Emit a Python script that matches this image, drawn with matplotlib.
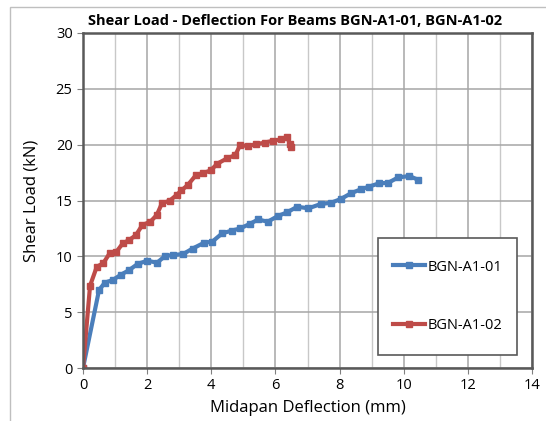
import matplotlib.pyplot as plt
from matplotlib.patches import Rectangle
from matplotlib.ticker import MultipleLocator

plt.rcParams['font.family'] = ['Open Sans', 'DejaVu Sans']

# BGN-A1-01 (blue)
x_a101 = [0, 0.5, 0.68, 0.93, 1.17, 1.44, 1.7, 2.0, 2.31, 2.56, 2.81, 3.12, 3.42,
          3.78, 4.03, 4.34, 4.64, 4.9, 5.2, 5.46, 5.76, 6.07, 6.37, 6.68, 7.03,
          7.41, 7.74, 8.05, 8.35, 8.66, 8.91, 9.22, 9.52, 9.83, 10.18, 10.45]
y_a101 = [0, 6.98, 7.64, 7.88, 8.33, 8.77, 9.31, 9.61, 9.43, 10.03, 10.12, 10.2, 10.7,
          11.22, 11.31, 12.06, 12.3, 12.5, 12.9, 13.3, 13.1, 13.6, 13.95, 14.44, 14.3,
          14.68, 14.8, 15.15, 15.64, 16.0, 16.23, 16.53, 16.59, 17.07, 17.19, 16.85]

# BGN-A1-02 (red)
x_a102 = [0, 0.22, 0.43, 0.63, 0.83, 1.04, 1.24, 1.44, 1.65, 1.85, 2.1, 2.3, 2.46,
          2.71, 2.92, 3.07, 3.27, 3.53, 3.73, 3.98, 4.19, 4.49, 4.75, 4.9, 5.15,
          5.4, 5.66, 5.91, 6.17, 6.37, 6.45, 6.5]
y_a102 = [0, 7.37, 9.07, 9.37, 10.27, 10.4, 11.16, 11.46, 11.9, 12.8, 13.1, 13.7, 14.74,
          15.0, 15.5, 15.9, 16.4, 17.3, 17.43, 17.7, 18.3, 18.77, 19.07, 19.96, 19.87,
          20.05, 20.17, 20.35, 20.47, 20.65, 20.1, 19.8]

fig = plt.figure(figsize=(5.46, 4.21), dpi=100)
ax = fig.add_axes([83 / 546, 53 / 421, 449 / 546, 335 / 421])

# outer chart border
fig.patches.append(Rectangle((10 / 546, -0.1), 1.2, (421 - 7) / 421 + 0.1,
                             transform=fig.transFigure, fill=False,
                             edgecolor='#bfbfbf', lw=1))

ax.plot(x_a101, y_a101, color='#4a7ebb', lw=3, marker='s', ms=4.5, label='BGN-A1-01')
ax.plot(x_a102, y_a102, color='#be4b48', lw=3, marker='s', ms=4.5, label='BGN-A1-02')

ax.set_xlim(0, 14)
ax.set_ylim(0, 30)
ax.xaxis.set_major_locator(MultipleLocator(2))
ax.xaxis.set_minor_locator(MultipleLocator(1))
ax.yaxis.set_major_locator(MultipleLocator(5))
ax.grid(which='major', color='#a6a6a6', lw=1.1)
ax.grid(which='minor', axis='x', color='#c8c8c8', lw=1)
ax.set_axisbelow(True)
ax.tick_params(which='minor', length=0)
ax.tick_params(which='major', length=4, color='#808080', labelsize=10.5)
for s in ax.spines.values():
    s.set_color('#595959')
    s.set_linewidth(1.8)

ax.set_xlabel('Midapan Deflection (mm)', fontsize=12, labelpad=5)
ax.set_ylabel('Shear Load (kN)', fontsize=12, labelpad=12)
ax.set_title('Shear Load - Deflection For Beams BGN-A1-01, BGN-A1-02',
             fontsize=10.5, fontweight='bold', x=0.472, pad=6)

# legend box
ax.add_patch(Rectangle((0.657, 0.039), 0.31, 0.349, transform=ax.transAxes,
                       facecolor='white', edgecolor='#595959', lw=1.2, zorder=4))
leg = ax.legend(loc='center', bbox_to_anchor=(0.657, 0.039, 0.31, 0.349),
                fontsize=10.5, labelspacing=3.0, handlelength=2.2, handletextpad=0.2,
                frameon=False)
leg.set_zorder(5)

fig.savefig('out.png', dpi=100)
